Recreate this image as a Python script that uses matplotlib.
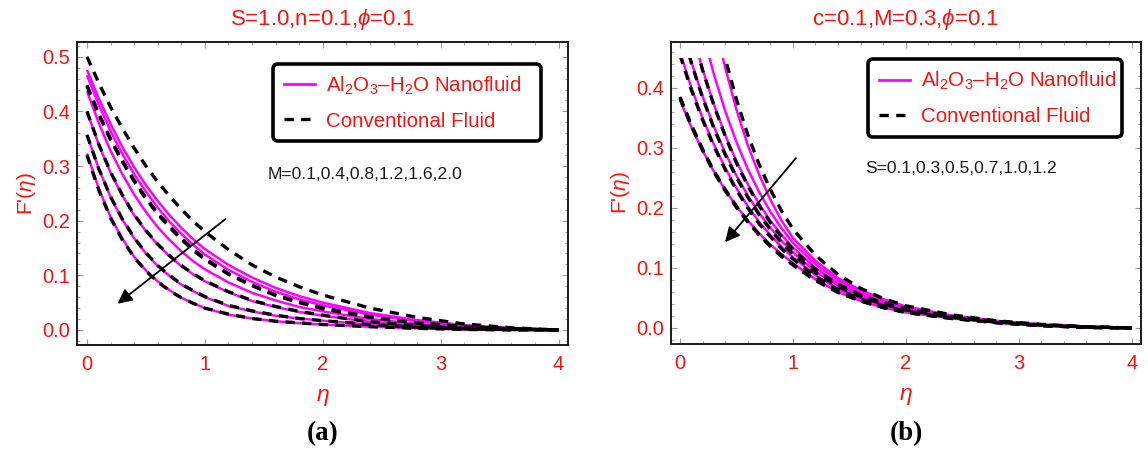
import matplotlib
matplotlib.use("Agg")
import matplotlib.pyplot as plt
from matplotlib.lines import Line2D
from matplotlib.patches import Rectangle
from matplotlib.ticker import MultipleLocator, FormatStrFormatter

plt.rcParams['font.family'] = ['Liberation Sans', 'DejaVu Sans']
plt.rcParams['mathtext.fontset'] = 'custom'
plt.rcParams['mathtext.rm'] = 'Liberation Sans'
plt.rcParams['mathtext.it'] = 'Liberation Sans:italic'
plt.rcParams['mathtext.bf'] = 'Liberation Sans:bold'

# ---------------- data ----------------
eta = [0.0, 0.1, 0.2, 0.3, 0.4, 0.5, 0.6, 0.7, 0.8, 0.9, 1.0,
       1.2, 1.4, 1.6, 1.8, 2.0, 2.4, 2.8, 3.2, 3.6, 4.0]

# Panel (a): M = 0.1, 0.4, 0.8, 1.2, 1.6, 2.0  (Al2O3-H2O nanofluid)
a_nf_M01 = [0.476, 0.424, 0.377, 0.335, 0.298, 0.265, 0.236, 0.210, 0.187, 0.166, 0.148,
            0.119, 0.096, 0.077, 0.062, 0.050, 0.031, 0.018, 0.009, 0.003, 0.0]
a_nf_M04 = [0.466, 0.412, 0.364, 0.322, 0.285, 0.253, 0.224, 0.198, 0.176, 0.156, 0.138,
            0.110, 0.088, 0.070, 0.056, 0.045, 0.028, 0.016, 0.008, 0.003, 0.0]
a_nf_M08 = [0.437, 0.379, 0.328, 0.285, 0.248, 0.216, 0.188, 0.165, 0.144, 0.126, 0.111,
            0.087, 0.068, 0.054, 0.042, 0.034, 0.020, 0.011, 0.005, 0.002, 0.0]
a_nf_M12 = [0.400, 0.339, 0.288, 0.246, 0.210, 0.181, 0.156, 0.135, 0.117, 0.102, 0.089,
            0.069, 0.053, 0.042, 0.033, 0.026, 0.015, 0.008, 0.003, 0.001, 0.0]
a_nf_M16 = [0.357, 0.295, 0.243, 0.202, 0.168, 0.140, 0.117, 0.099, 0.083, 0.071, 0.060,
            0.044, 0.034, 0.026, 0.021, 0.017, 0.010, 0.005, 0.002, 0.001, 0.0]
a_nf_M20 = [0.323, 0.259, 0.207, 0.167, 0.134, 0.109, 0.089, 0.073, 0.059, 0.049, 0.040,
            0.028, 0.021, 0.016, 0.0125, 0.010, 0.006, 0.003, 0.001, 0.0, 0.0]
# Panel (a): conventional fluid
a_cf_M01 = [0.500, 0.452, 0.408, 0.369, 0.333, 0.300, 0.271, 0.245, 0.221, 0.199, 0.180,
            0.147, 0.119, 0.097, 0.079, 0.064, 0.040, 0.023, 0.011, 0.004, 0.0]
a_cf_M04 = [0.448, 0.396, 0.350, 0.310, 0.274, 0.242, 0.214, 0.190, 0.168, 0.148, 0.131,
            0.103, 0.082, 0.064, 0.051, 0.040, 0.024, 0.013, 0.006, 0.002, 0.0]
a_cf_M08 = [0.446, 0.394, 0.348, 0.308, 0.272, 0.240, 0.212, 0.188, 0.166, 0.146, 0.129,
            0.102, 0.081, 0.063, 0.050, 0.039, 0.023, 0.013, 0.006, 0.002, 0.0]
a_cf_M12 = [0.400, 0.340, 0.289, 0.247, 0.211, 0.182, 0.157, 0.136, 0.118, 0.103, 0.090,
            0.070, 0.054, 0.043, 0.034, 0.027, 0.015, 0.008, 0.003, 0.001, 0.0]
a_cf_M16 = [0.357, 0.295, 0.244, 0.203, 0.169, 0.141, 0.118, 0.100, 0.084, 0.072, 0.061,
            0.045, 0.035, 0.027, 0.021, 0.017, 0.010, 0.005, 0.002, 0.001, 0.0]
a_cf_M20 = [0.320, 0.256, 0.205, 0.165, 0.133, 0.108, 0.088, 0.072, 0.059, 0.049, 0.040,
            0.029, 0.021, 0.016, 0.013, 0.010, 0.006, 0.003, 0.001, 0.0, 0.0]

# Panel (b): S = 0.1, 0.3, 0.5, 0.7, 1.0, 1.2  (Al2O3-H2O nanofluid)
b_nf_S01 = [0.882, 0.739, 0.619, 0.518, 0.434, 0.364, 0.305, 0.256, 0.214, 0.179, 0.150,
            0.112, 0.083, 0.063, 0.048, 0.036, 0.021, 0.012, 0.006, 0.002, 0.0]
b_nf_S03 = [0.675, 0.577, 0.494, 0.423, 0.362, 0.310, 0.265, 0.227, 0.194, 0.166, 0.142,
            0.106, 0.079, 0.059, 0.045, 0.034, 0.020, 0.011, 0.005, 0.002, 0.0]
b_nf_S05 = [0.577, 0.499, 0.431, 0.373, 0.322, 0.278, 0.240, 0.207, 0.179, 0.155, 0.134,
            0.100, 0.074, 0.056, 0.042, 0.032, 0.019, 0.011, 0.005, 0.002, 0.0]
b_nf_S07 = [0.510, 0.444, 0.386, 0.336, 0.292, 0.254, 0.221, 0.192, 0.167, 0.145, 0.126,
            0.094, 0.070, 0.052, 0.040, 0.030, 0.018, 0.010, 0.005, 0.002, 0.0]
b_nf_S10 = [0.460, 0.401, 0.350, 0.306, 0.267, 0.233, 0.203, 0.177, 0.155, 0.135, 0.118,
            0.088, 0.065, 0.049, 0.037, 0.028, 0.017, 0.009, 0.004, 0.001, 0.0]
b_nf_S12 = [0.380, 0.335, 0.296, 0.261, 0.230, 0.203, 0.179, 0.158, 0.139, 0.123, 0.108,
            0.081, 0.060, 0.045, 0.034, 0.026, 0.016, 0.009, 0.004, 0.001, 0.0]
# Panel (b): conventional fluid
b_cf_S01 = [0.879, 0.744, 0.629, 0.532, 0.450, 0.381, 0.322, 0.273, 0.231, 0.195, 0.165,
            0.121, 0.089, 0.066, 0.049, 0.037, 0.022, 0.012, 0.006, 0.002, 0.0]
b_cf_S03 = [0.577, 0.498, 0.430, 0.371, 0.320, 0.275, 0.237, 0.204, 0.176, 0.152, 0.131,
            0.098, 0.073, 0.055, 0.042, 0.032, 0.019, 0.011, 0.005, 0.002, 0.0]
b_cf_S05 = [0.508, 0.442, 0.384, 0.333, 0.289, 0.251, 0.218, 0.189, 0.164, 0.142, 0.123,
            0.092, 0.069, 0.052, 0.040, 0.030, 0.018, 0.010, 0.005, 0.002, 0.0]
b_cf_S07 = [0.455, 0.397, 0.347, 0.303, 0.264, 0.230, 0.200, 0.174, 0.152, 0.132, 0.115,
            0.086, 0.064, 0.048, 0.037, 0.028, 0.017, 0.009, 0.004, 0.001, 0.0]
b_cf_S10 = [0.385, 0.339, 0.298, 0.262, 0.231, 0.203, 0.178, 0.156, 0.137, 0.121, 0.106,
            0.080, 0.060, 0.045, 0.034, 0.026, 0.016, 0.009, 0.004, 0.001, 0.0]
b_cf_S12 = [0.383, 0.337, 0.296, 0.260, 0.229, 0.201, 0.177, 0.155, 0.136, 0.119, 0.105,
            0.079, 0.059, 0.045, 0.034, 0.026, 0.016, 0.009, 0.004, 0.001, 0.0]

a_nano = [a_nf_M01, a_nf_M04, a_nf_M08, a_nf_M12, a_nf_M16, a_nf_M20]
a_conv = [a_cf_M01, a_cf_M04, a_cf_M08, a_cf_M12, a_cf_M16, a_cf_M20]
b_nano = [b_nf_S01, b_nf_S03, b_nf_S05, b_nf_S07, b_nf_S10, b_nf_S12]
b_conv = [b_cf_S01, b_cf_S03, b_cf_S05, b_cf_S07, b_cf_S10, b_cf_S12]

title_a = "S=1.0,n=0.1,$\\phi$=0.1"
title_b = "c=0.1,M=0.3,$\\phi$=0.1"
note_a = "M=0.1,0.4,0.8,1.2,1.6,2.0"
note_b = "S=0.1,0.3,0.5,0.7,1.0,1.2"
leg_labels = ["Al$_2$O$_3$\u2013H$_2$O Nanofluid", "Conventional Fluid"]
x_ticks = [0, 1, 2, 3, 4]
y_ticks_a = [0.0, 0.1, 0.2, 0.3, 0.4, 0.5]
y_ticks_b = [0.0, 0.1, 0.2, 0.3, 0.4]

# ---------------- style ----------------
RED = '#ff1010'
MAG = '#ff00ff'
DASH = (0, (2.8, 2.2))

fig = plt.figure(figsize=(11.48, 4.55), dpi=100)
W, H = 1148.0, 455.0
ax_a = fig.add_axes([77.3 / W, 1 - 345 / H, (568 - 77.3) / W, (345 - 41.7) / H])
ax_b = fig.add_axes([670.7 / W, 1 - 344 / H, (1140.7 - 670.7) / W, (344 - 41.7) / H])


def draw_panel(ax, nano, conv, ylim, yticks, clip_top, title, note, note_xy,
               arrow_from, arrow_to, leg_bbox, panel_label, label_x):
    ax.set_xlim(-0.082, 4.08)
    ax.set_ylim(*ylim)
    clip = Rectangle((-1, -1), 10, clip_top + 1, transform=ax.transData)
    for ys in nano:
        ln, = ax.plot(eta, ys, color=MAG, lw=1.8, zorder=2, solid_capstyle='butt')
        ln.set_clip_path(clip)
    for ys in conv:
        ln, = ax.plot(eta, ys, color='black', lw=2.4, ls=DASH, zorder=3,
                      dash_capstyle='butt')
        ln.set_clip_path(clip)

    ax.set_xticks(x_ticks)
    ax.set_yticks(yticks)
    ax.yaxis.set_major_formatter(FormatStrFormatter('%.1f'))
    ax.xaxis.set_minor_locator(MultipleLocator(0.2))
    ax.yaxis.set_minor_locator(MultipleLocator(0.02))
    ax.tick_params(which='both', direction='in', top=True, right=True,
                   color='#9a9a9a', labelcolor=RED, labelsize=14.5)
    ax.tick_params(which='major', length=4, width=0.8)
    ax.tick_params(which='minor', length=2, width=0.6)
    ax.tick_params(axis='x', pad=7)
    ax.tick_params(axis='y', pad=5)
    for sp in ax.spines.values():
        sp.set_color('#1a1a1a')
        sp.set_linewidth(1.4)

    ax.set_title(title, color=RED, fontsize=16, pad=12)
    ax.set_xlabel("$\\eta$", color=RED, fontsize=16.5, labelpad=8)
    ax.set_ylabel("F'($\\eta$)", color=RED, fontsize=15, labelpad=3)

    ax.text(note_xy[0], note_xy[1], note, fontsize=12.6, color='#1a1a1a',
            va='center', ha='left')
    ax.annotate('', xy=arrow_to, xytext=arrow_from,
                arrowprops=dict(arrowstyle='-|>', color='black', lw=1.3,
                                mutation_scale=22, shrinkA=0, shrinkB=0))

    handles = [Line2D([], [], color=MAG, lw=2.0),
               Line2D([], [], color='black', lw=2.4, ls=DASH, dash_capstyle='butt')]
    leg = ax.legend(handles, leg_labels, loc='upper left', bbox_to_anchor=leg_bbox,
                    mode='expand', borderaxespad=0, fontsize=14.8, labelcolor=RED,
                    handlelength=1.5, handletextpad=0.55, labelspacing=0.72,
                    borderpad=0.52, fancybox=True, framealpha=1)
    fr = leg.get_frame()
    fr.set_edgecolor('black')
    fr.set_linewidth(2.6)
    fr.set_boxstyle('round,pad=0,rounding_size=0.25')

    fig.text(label_x / W, 1 - 434 / H, panel_label, ha='center', va='center',
             fontsize=19.5, fontweight='bold', family='Liberation Serif')


draw_panel(ax_a, a_nano, a_conv, (-0.0275, 0.5275), y_ticks_a, 10.0,
           title_a, note_a, (1.53, 0.285), (1.175, 0.203), (0.259, 0.048),
           (0.399, 0.670, 0.546, 0.257), "(a)", 323)
draw_panel(ax_b, b_nano, b_conv, (-0.0267, 0.477), y_ticks_b, 0.45,
           title_b, note_b, (1.64, 0.266), (1.027, 0.283), (0.40, 0.143),
           (0.42, 0.688, 0.54, 0.254), "(b)", 906)

fig.savefig("out.png", dpi=100, facecolor='white')
